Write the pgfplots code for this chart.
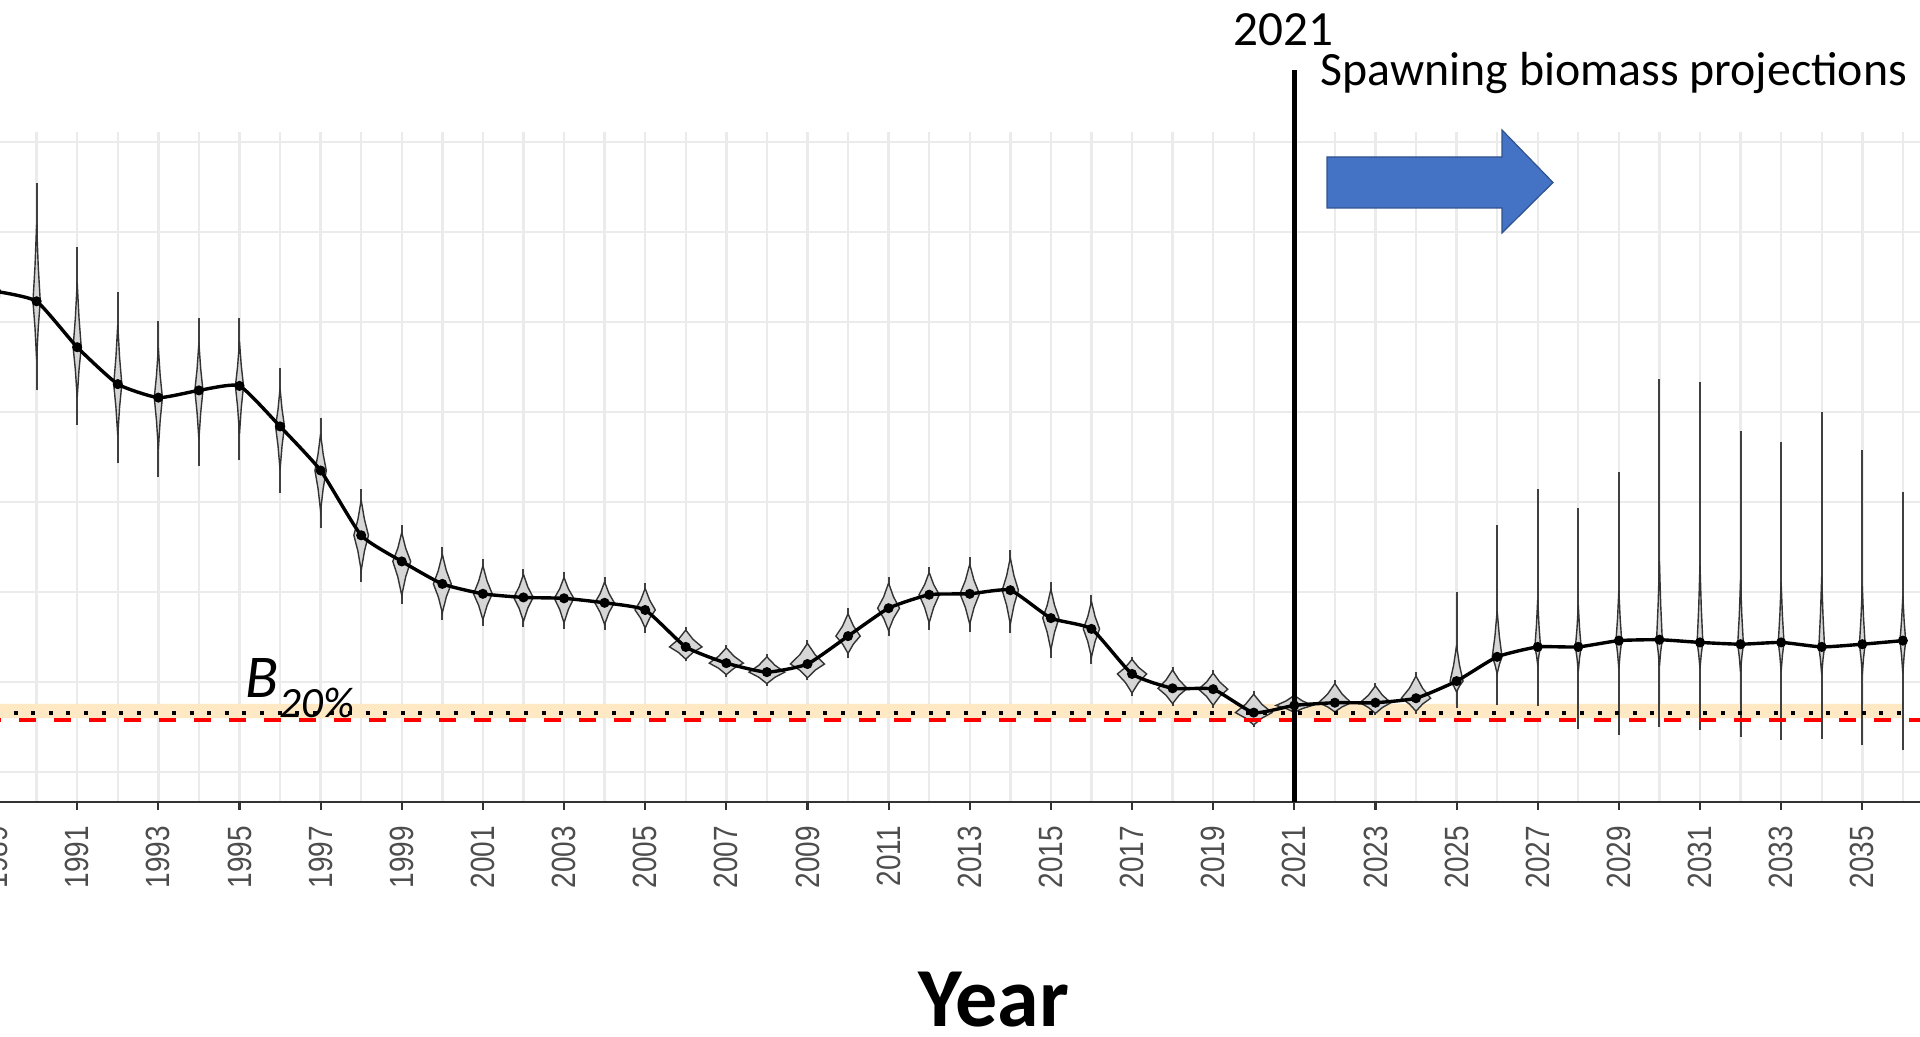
\documentclass[border=0pt]{standalone}
\usepackage{pgfplots}
\pgfplotsset{compat=1.18}
\usepackage{pgfplotstable}
\usepackage{fontspec}
\setmainfont{Carlito}
\newfontfamily\arialfont{Liberation Sans}

\definecolor{gridgray}{HTML}{EBEBEB}
\definecolor{violfill}{HTML}{D6D6D6}
\definecolor{bandorange}{RGB}{255,233,196}
\definecolor{arrowblue}{HTML}{4472C4}
\definecolor{arrowedge}{HTML}{2F528F}
\definecolor{ticklab}{HTML}{4D4D4D}

% spawning biomass (relative units): median, whisker range, violin half width, body fraction
\pgfplotstableread{
yr   med  lo   hi   w    f
1989 6.34 5.18 6.72 0.09 0.65
1990 6.23 5.24 7.54 0.09 0.65
1991 5.72 4.86 6.83 0.10 0.65
1992 5.31 4.43 6.33 0.10 0.65
1993 5.16 4.28 6.01 0.10 0.65
1994 5.24 4.40 6.05 0.10 0.65
1995 5.29 4.47 6.05 0.10 0.65
1996 4.84 4.10 5.49 0.11 0.65
1997 4.35 3.71 4.93 0.14 0.7
1998 3.63 3.11 4.15 0.18 0.75
1999 3.34 2.87 3.74 0.22 0.8
2000 3.09 2.69 3.50 0.22 0.8
2001 2.98 2.62 3.37 0.23 0.8
2002 2.94 2.61 3.26 0.24 0.8
2003 2.93 2.59 3.22 0.24 0.8
2004 2.88 2.58 3.17 0.24 0.8
2005 2.80 2.55 3.10 0.25 0.8
2006 2.39 2.23 2.61 0.40 0.85
2007 2.21 2.06 2.41 0.42 0.85
2008 2.11 1.96 2.31 0.44 0.85
2009 2.20 2.02 2.47 0.42 0.85
2010 2.51 2.27 2.82 0.30 0.8
2011 2.82 2.51 3.17 0.27 0.8
2012 2.97 2.58 3.28 0.25 0.8
2013 2.98 2.56 3.39 0.24 0.8
2014 3.02 2.55 3.47 0.20 0.8
2015 2.71 2.27 3.11 0.20 0.8
2016 2.59 2.20 2.97 0.20 0.8
2017 2.09 1.84 2.28 0.36 0.85
2018 1.93 1.73 2.17 0.36 0.85
2019 1.92 1.71 2.13 0.36 0.85
2020 1.66 1.50 1.90 0.45 0.85
2021 1.74 1.65 1.87 0.45 0.85
2022 1.77 1.65 2.02 0.40 0.85
2023 1.77 1.63 1.99 0.38 0.85
2024 1.82 1.65 2.11 0.36 0.85
2025 2.01 1.71 3.00 0.16 0.4
2026 2.28 1.74 3.74 0.12 0.35
2027 2.39 1.73 4.15 0.07 0.3
2028 2.39 1.48 3.93 0.07 0.3
2029 2.46 1.41 4.33 0.07 0.3
2030 2.47 1.50 5.37 0.07 0.3
2031 2.44 1.47 5.33 0.07 0.3
2032 2.42 1.39 4.79 0.07 0.3
2033 2.44 1.36 4.67 0.07 0.3
2034 2.39 1.37 5.00 0.07 0.3
2035 2.42 1.30 4.58 0.07 0.3
2036 2.46 1.24 4.11 0.07 0.3
}\viol

\begin{document}
\begin{tikzpicture}
\pgfplotstablegetrowsof{\viol}
\pgfmathtruncatemacro\nlast{\pgfplotsretval-1}
\begin{axis}[
  at={(-4.03pt,58.75pt)}, anchor=south west,
  scale only axis, width=485.83pt, height=167.5pt,
  xmin=1988.7, xmax=2036.6, ymin=0.667, ymax=8.111,
  axis x line*=bottom, axis y line*=left,
  y axis line style={draw=none},
  x axis line style={draw=black!80, line width=0.55pt},
  xtick={1989,1991,...,2035}, minor xtick={1990,1992,...,2036},
  ytick={1,...,8}, yticklabels={},
  xtick pos=left, ytick pos=left,
  grid=both,
  major grid style={draw=gridgray, line width=0.6pt},
  minor grid style={draw=gridgray, line width=0.6pt},
  tick align=outside,
  major tick length=1.9pt, minor tick length=0pt,
  xtick style={draw=black!80, line width=0.55pt},
  ytick style={draw=none},
  /pgf/number format/1000 sep={},
  /pgf/number format/assume math mode=true,
  xticklabel={\scalebox{1}[1.2]{\pgfmathprintnumber{\tick}}},
  x tick label style={rotate=90, anchor=east, inner sep=0pt,
    font=\arialfont\fontsize{7}{7}\selectfont, text=ticklab},
  xticklabel shift=3.9pt,
  clip=false,
  whisk/.style={draw=black!75, line width=0.5pt},
  vio/.style={draw=black!80, line width=0.35pt, fill=violfill},
]
% B20% band
\addplot[draw=none, fill=bandorange] coordinates {(1989,1.60) (2036,1.60) (2036,1.756) (1989,1.756) (1989,1.60)};

% violins with whiskers
\pgfplotsforeachungrouped \rr in {0,...,\nlast}{%
  \pgfplotstablegetelem{\rr}{yr}\of\viol \let\yr\pgfplotsretval
  \pgfplotstablegetelem{\rr}{med}\of\viol \let\med\pgfplotsretval
  \pgfplotstablegetelem{\rr}{lo}\of\viol \let\lo\pgfplotsretval
  \pgfplotstablegetelem{\rr}{hi}\of\viol \let\hi\pgfplotsretval
  \pgfplotstablegetelem{\rr}{w}\of\viol \let\w\pgfplotsretval
  \pgfplotstablegetelem{\rr}{f}\of\viol \let\f\pgfplotsretval
  \pgfmathsetmacro\bhi{\med+\f*(\hi-\med)}
  \pgfmathsetmacro\blo{\med-\f*(\med-\lo)}
  \pgfmathsetmacro\uhi{\med+0.45*(\bhi-\med)}
  \pgfmathsetmacro\ulo{\med-0.45*(\med-\blo)}
  \pgfmathsetmacro\xl{\yr-\w}
  \pgfmathsetmacro\xr{\yr+\w}
  \pgfmathsetmacro\il{\yr-0.45*\w}
  \pgfmathsetmacro\ir{\yr+0.45*\w}
  \edef\cmd{%
    \noexpand\addplot[whisk] coordinates {(\yr,\lo) (\yr,\hi)};
    \noexpand\addplot[vio] coordinates {(\yr,\bhi) (\ir,\uhi) (\xr,\med) (\ir,\ulo) (\yr,\blo) (\il,\ulo) (\xl,\med) (\il,\uhi) (\yr,\bhi)};
  }%
  \cmd
}

% reference lines
\addplot[black, line width=1pt, dash pattern=on 1pt off 3.4pt] coordinates {(1989,1.655) (2036,1.655)};
\addplot[red, line width=1pt, dash pattern=on 4.25pt off 4.5pt] coordinates {(1988.7,1.578) (2036.6,1.578)};

% median trajectory
\addplot[black, line width=0.85pt, smooth, tension=0.3] table[x=yr, y=med] {\viol};
\addplot[only marks, mark=*, mark size=1.05pt, black] table[x=yr, y=med] {\viol};
\end{axis}

% annotations
\draw[line width=1.25pt] (323.575pt,58.75pt) -- (323.575pt,241.75pt);
\node[anchor=base, inner sep=0pt, font=\fontsize{12.3}{15}\selectfont] at (320.9pt,247.75pt) {2021};
\node[anchor=base west, inner sep=0pt, font=\fontsize{11.95}{15}\selectfont] at (330pt,237.75pt) {Spawning biomass projections};
\filldraw[fill=arrowblue, draw=arrowedge, line width=0.3pt]
  (331.75pt,207.25pt) -- (375.5pt,207.25pt) -- (375.5pt,201pt) -- (388.25pt,213.625pt)
  -- (375.5pt,226.75pt) -- (375.5pt,220pt) -- (331.75pt,220pt) -- cycle;
\node[anchor=base west, inner sep=0pt, font=\itshape\fontsize{15.2}{16}\selectfont] at (61.25pt,84.75pt) {B};
\node[anchor=base west, inner sep=0pt, font=\itshape\fontsize{10.8}{12}\selectfont] at (69.75pt,79.75pt) {20\%};
\node[anchor=base, inner sep=0pt, font=\bfseries\fontsize{21}{24}\selectfont] at (248.5pt,2.5pt) {Year};

\pgfresetboundingbox
\path[use as bounding box] (0,0) rectangle (480pt,259.25pt);
\end{tikzpicture}
\end{document}
